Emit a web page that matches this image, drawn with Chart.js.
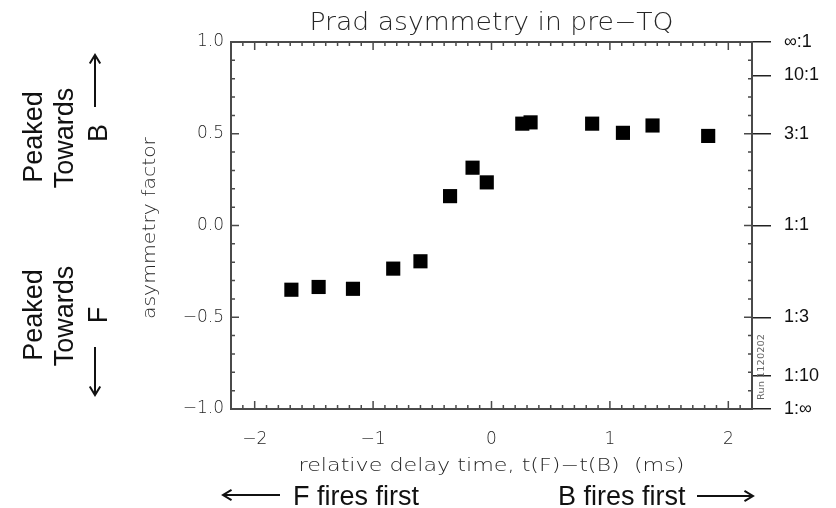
<!DOCTYPE html>
<html lang="en">
<head>
<meta charset="UTF-8">
<title>Prad asymmetry in pre-TQ</title>
<style>
  body { margin: 0; background: #fff; }
  #wrap { width: 836px; height: 508px; }
</style>
</head>
<body>
<div id="wrap"><canvas id="chart" width="836" height="508"></canvas></div>
<script src="https://cdn.jsdelivr.net/npm/chart.js"></script>
<script>
// delay t(F)-t(B) in ms and measured asymmetry factor
const delayMs = [-1.69, -1.46, -1.17, -0.83, -0.60, -0.35, -0.16, -0.04, 0.26, 0.33, 0.85, 1.11, 1.36, 1.83];
const asymmetry = [-0.35, -0.335, -0.345, -0.235, -0.195, 0.16, 0.315, 0.235, 0.555, 0.562, 0.555, 0.505, 0.545, 0.488];

const xTicks = [-2, -1, 0, 1, 2];
const xTickLabels = ['−2', '−1', '0', '1', '2'];
const yTicks = [-1, -0.5, 0, 0.5, 1];
const yTickLabels = ['−1.0', '−0.5', '0.0', '0.5', '1.0'];
// right axis: peak ratio F:B mapped onto the asymmetry scale
const ratioTicks = [-1, -0.818, -0.5, 0, 0.5, 0.818, 1];
const ratioLabels = ['1:∞', '1:10', '1:3', '1:1', '3:1', '10:1', '∞:1'];

const idlGray = '#262626';

function fitText(ctx, txt, x, y, w, rot) {
    const nat = ctx.measureText(txt).width;
    ctx.save();
    ctx.translate(x, y);
    if (rot) ctx.rotate(rot);
    ctx.scale(w / nat, 1);
    ctx.fillText(txt, 0, 0);
    ctx.restore();
}

function vText(ctx, txt, x, y) {
    ctx.save();
    ctx.translate(x, y);
    ctx.rotate(-Math.PI / 2);
    ctx.fillText(txt, 0, 0);
    ctx.restore();
}

function arrow(ctx, x1, y1, x2, y2) {
    const a = Math.atan2(y2 - y1, x2 - x1), h = 10, s = 0.55;
    ctx.beginPath();
    ctx.moveTo(x1, y1);
    ctx.lineTo(x2, y2);
    ctx.moveTo(x2 - h * Math.cos(a - s), y2 - h * Math.sin(a - s));
    ctx.lineTo(x2, y2);
    ctx.lineTo(x2 - h * Math.cos(a + s), y2 - h * Math.sin(a + s));
    ctx.stroke();
}

const idlFrame = {
    id: 'idlFrame',
    afterDraw(chart) {
        const ctx = chart.ctx, a = chart.chartArea;
        const sx = chart.scales.x, sy = chart.scales.y;
        ctx.save();
        // box + inward ticks
        ctx.strokeStyle = '#4a4a4a';
        ctx.lineWidth = 2;
        ctx.strokeRect(a.left, a.top, a.right - a.left, a.bottom - a.top);
        ctx.lineWidth = 1.5;
        ctx.beginPath();
        for (let i = -21; i <= 21; i++) {
            const px = sx.getPixelForValue(i / 10);
            const len = i % 10 === 0 ? 8 : 4;
            ctx.moveTo(px, a.bottom); ctx.lineTo(px, a.bottom - len);
            ctx.moveTo(px, a.top); ctx.lineTo(px, a.top + len);
        }
        for (let i = -9; i <= 9; i++) {
            const py = sy.getPixelForValue(i / 10);
            const len = i % 5 === 0 ? 8 : 4;
            ctx.moveTo(a.left, py); ctx.lineTo(a.left + len, py);
            ctx.moveTo(a.right, py); ctx.lineTo(a.right - len, py);
        }
        ctx.stroke();

        // IDL style titles
        ctx.fillStyle = idlGray;
        ctx.textAlign = 'center';
        ctx.textBaseline = 'middle';
        ctx.font = '200 24px "DejaVu Sans"';
        fitText(ctx, 'Prad asymmetry in pre−TQ', (a.left + a.right) / 2, 24, 364);
        ctx.font = '200 18px "DejaVu Sans"';
        fitText(ctx, 'relative delay time, t(F)−t(B)  (ms)', (a.left + a.right) / 2, 466, 386);
        fitText(ctx, 'asymmetry factor', 150, 228, 182, -Math.PI / 2);
        ctx.font = '9px "DejaVu Sans"';
        ctx.fillStyle = '#666';
        fitText(ctx, 'Run 1120202', 762, 367, 66, -Math.PI / 2);

        // slide annotations
        ctx.fillStyle = '#111';
        ctx.strokeStyle = '#111';
        ctx.lineWidth = 2;
        ctx.font = '27px "Liberation Sans"';
        ctx.textBaseline = 'alphabetic';
        vText(ctx, 'Peaked', 42, 137);
        vText(ctx, 'Towards', 73, 138);
        vText(ctx, 'B', 107, 133);
        vText(ctx, 'Peaked', 42, 315);
        vText(ctx, 'Towards', 73, 316);
        vText(ctx, 'F', 107, 315);
        arrow(ctx, 95, 107, 95, 55);
        arrow(ctx, 95, 347, 95, 395);

        ctx.textAlign = 'left';
        ctx.fillText('F fires first', 293, 505);
        ctx.fillText('B fires first', 558, 505);
        arrow(ctx, 280, 495, 223, 495);
        arrow(ctx, 697, 496, 753, 496);
        ctx.restore();
    }
};

new Chart(document.getElementById('chart'), {
    type: 'scatter',
    data: {
        datasets: [{
            data: delayMs.map((x, i) => ({ x: x, y: asymmetry[i] })),
            pointStyle: 'rect',
            pointRadius: 10,
            backgroundColor: '#000',
            borderWidth: 0,
            yAxisID: 'y'
        }]
    },
    options: {
        responsive: false,
        animation: false,
        devicePixelRatio: 1,
        layout: { padding: { top: 42, left: 0, right: 0, bottom: 0 } },
        plugins: {
            legend: { display: false },
            tooltip: { enabled: false },
            title: { display: false }
        },
        scales: {
            x: {
                type: 'linear',
                position: 'bottom',
                min: -2.2,
                max: 2.2,
                afterBuildTicks: s => { s.ticks = xTicks.map(v => ({ value: v })); },
                afterFit: s => { s.height = 99; },
                grid: { display: false, drawTicks: false },
                border: { display: false },
                ticks: {
                    padding: 20,
                    autoSkip: false,
                    maxRotation: 0,
                    color: idlGray,
                    font: { family: 'DejaVu Sans', size: 17, weight: '200' },
                    callback: v => xTickLabels[xTicks.indexOf(v)]
                }
            },
            y: {
                type: 'linear',
                position: 'left',
                min: -1,
                max: 1,
                afterBuildTicks: s => { s.ticks = yTicks.map(v => ({ value: v })); },
                afterFit: s => { s.width = 231; },
                grid: { display: false, drawTicks: false },
                border: { display: false },
                ticks: {
                    padding: 7,
                    autoSkip: false,
                    color: idlGray,
                    font: { family: 'DejaVu Sans', size: 17, weight: '200' },
                    callback: v => yTickLabels[yTicks.indexOf(v)]
                }
            },
            y2: {
                type: 'linear',
                position: 'right',
                min: -1,
                max: 1,
                afterBuildTicks: s => { s.ticks = ratioTicks.map(v => ({ value: v })); },
                afterFit: s => { s.width = 84; },
                grid: { drawOnChartArea: false, drawTicks: true, tickLength: 19, color: '#222', lineWidth: 1.5 },
                border: { display: false },
                ticks: {
                    padding: 13,
                    autoSkip: false,
                    color: '#111',
                    font: { family: 'Liberation Sans', size: 18 },
                    callback: v => ratioLabels[ratioTicks.indexOf(v)]
                }
            }
        }
    },
    plugins: [idlFrame]
});
</script>
</body>
</html>
